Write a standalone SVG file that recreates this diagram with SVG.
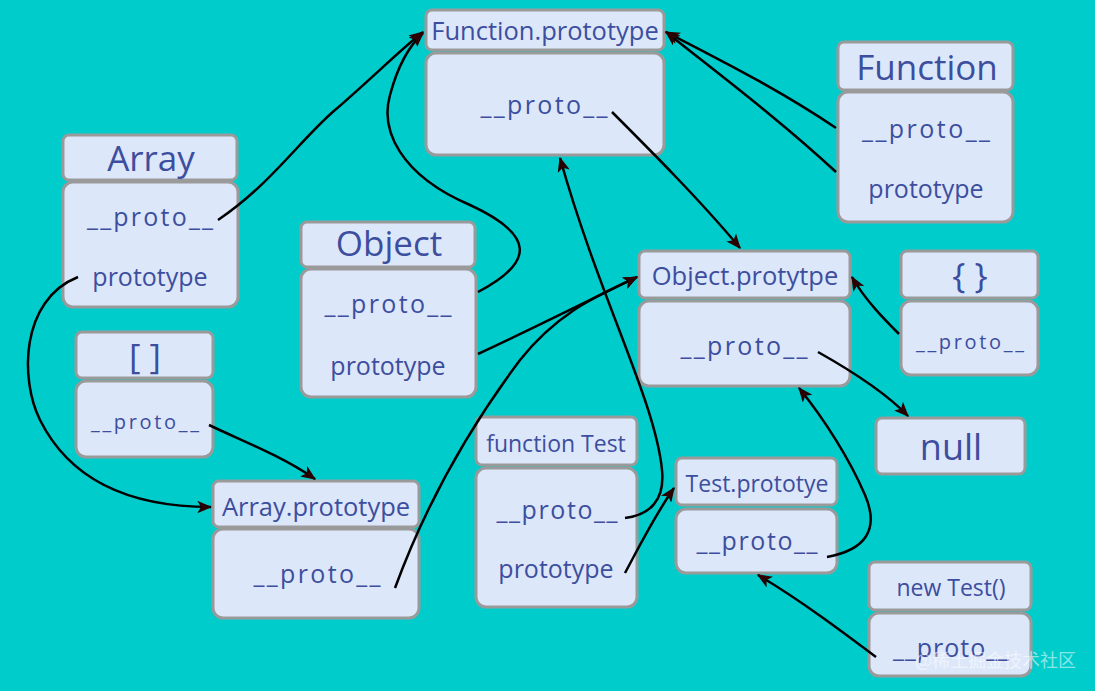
<svg xmlns="http://www.w3.org/2000/svg" width="1095" height="691" viewBox="0 0 1095 691">
<defs>
<style>
.bg{fill:#00CCCC}
.box{fill:#DCE7FA;stroke:#9A9A9A;stroke-width:3}
text{font-family:"Open Sans","Noto Sans","DejaVu Sans",sans-serif;fill:#3D4E9E;text-anchor:middle}
.hd{font-size:25.5px}
.hs{font-size:23px}
.t24{font-size:25px}
.t20{font-size:20px}
.big{font-size:35px}
.huge{font-size:36px}
.edge{fill:none;stroke:#000;stroke-width:2.5;marker-end:url(#ah)}
.wm{font-family:"Noto Sans CJK SC","Noto Sans",sans-serif;font-size:18px;fill:#FFFFFF;fill-opacity:0.55;text-anchor:start}
</style>
<marker id="ah" viewBox="0 0 12 10" refX="11" refY="5" markerWidth="6" markerHeight="5" orient="auto" markerUnits="strokeWidth">
<path d="M0,0 L12,5 L0,10 L3,5 Z" fill="#2A0000"/>
</marker>
</defs>
<rect class="bg" x="0" y="0" width="1095" height="691"/>

<g id="function-prototype">
<rect class="box" x="426" y="10" width="238" height="40" rx="6"/>
<rect class="box" x="426" y="53" width="238" height="102" rx="10"/>
<text class="hd" x="545" y="40">Function.prototype</text>
<text class="t24" x="544" y="114" textLength="127" lengthAdjust="spacing">__proto__</text>
</g>

<g id="function">
<rect class="box" x="838" y="42" width="175" height="48" rx="6"/>
<rect class="box" x="838" y="92" width="175" height="130" rx="10"/>
<text class="big" x="927" y="80">Function</text>
<text class="t24" x="926" y="138" textLength="128" lengthAdjust="spacing">__proto__</text>
<text class="t24" x="926" y="198">prototype</text>
</g>

<g id="array">
<rect class="box" x="63" y="135" width="174" height="45" rx="6"/>
<rect class="box" x="63" y="182" width="175" height="125" rx="10"/>
<text class="big" x="151" y="171">Array</text>
<text class="t24" x="150" y="226" textLength="126" lengthAdjust="spacing">__proto__</text>
<text class="t24" x="150" y="286">prototype</text>
</g>

<g id="object">
<rect class="box" x="301" y="222" width="174" height="45" rx="6"/>
<rect class="box" x="301" y="269" width="175" height="128" rx="10"/>
<text class="big" x="389" y="256">Object</text>
<text class="t24" x="388" y="313" textLength="127" lengthAdjust="spacing">__proto__</text>
<text class="t24" x="388" y="375">prototype</text>
</g>

<g id="array-literal">
<rect class="box" x="76" y="332" width="137" height="46" rx="6"/>
<rect class="box" x="76" y="381" width="137" height="76" rx="10"/>
<text class="big" x="145" y="369">[ ]</text>
<text class="t20" x="145" y="429" textLength="108" lengthAdjust="spacing">__proto__</text>
</g>

<g id="object-prototype">
<rect class="box" x="639" y="251" width="211" height="47" rx="6"/>
<rect class="box" x="639" y="301" width="211" height="85" rx="10"/>
<text class="hd" x="745" y="285">Object.protytpe</text>
<text class="t24" x="744" y="355" textLength="127" lengthAdjust="spacing">__proto__</text>
</g>

<g id="object-literal">
<rect class="box" x="901" y="251" width="137" height="47" rx="6"/>
<rect class="box" x="901" y="301" width="137" height="74" rx="10"/>
<text class="big" x="970" y="288">{ }</text>
<text class="t20" x="970" y="349" textLength="108" lengthAdjust="spacing">__proto__</text>
</g>

<g id="null">
<rect class="box" x="876" y="418" width="149" height="56" rx="6"/>
<text class="huge" x="951" y="460">null</text>
</g>

<g id="array-prototype">
<rect class="box" x="213" y="481" width="206" height="46" rx="6"/>
<rect class="box" x="213" y="529" width="206" height="89" rx="10"/>
<text class="hd" x="316" y="516">Array.prototype</text>
<text class="t24" x="317" y="583" textLength="127" lengthAdjust="spacing">__proto__</text>
</g>

<g id="function-test">
<rect class="box" x="476" y="417" width="161" height="48" rx="6"/>
<rect class="box" x="476" y="468" width="161" height="139" rx="10"/>
<text class="hs" x="556" y="452">function Test</text>
<text class="t24" x="557" y="519" textLength="121" lengthAdjust="spacing">__proto__</text>
<text class="t24" x="556" y="578">prototype</text>
</g>

<g id="test-prototype">
<rect class="box" x="676" y="458" width="161" height="47" rx="6"/>
<rect class="box" x="676" y="509" width="161" height="64" rx="10"/>
<text class="hs" x="757" y="492">Test.prototye</text>
<text class="t24" x="757" y="550" textLength="121" lengthAdjust="spacing">__proto__</text>
</g>

<g id="new-test">
<rect class="box" x="869" y="562" width="162" height="48" rx="6"/>
<rect class="box" x="869" y="613" width="162" height="63" rx="10"/>
<text class="hs" x="951" y="596">new Test()</text>
<text class="t24" x="951" y="657" textLength="116" lengthAdjust="spacing">__proto__</text>
</g>

<g id="connectors">
<path class="edge" d="M218,220 C270,185 300,140 335,110 C370,80 400,50 423,32"/>
<path class="edge" d="M478,292 C535,262 535,235 470,205 C400,175 380,130 390,95 C398,65 410,45 423,33"/>
<path class="edge" d="M78,277 C20,300 20,380 40,420 C70,480 130,507 211,507"/>
<path class="edge" d="M209,425 C240,440 280,455 315,479"/>
<path class="edge" d="M395,588 C420,520 460,440 520,360 C560,310 600,295 637,277"/>
<path class="edge" d="M478,354 C530,330 590,300 637,277"/>
<path class="edge" d="M612,112 C650,150 700,200 740,248"/>
<path class="edge" d="M836,128 C780,90 720,60 666,32"/>
<path class="edge" d="M836,172 C780,120 720,75 666,32"/>
<path class="edge" d="M899,334 C885,320 865,300 852,277"/>
<path class="edge" d="M818,352 C850,370 885,392 908,416"/>
<path class="edge" d="M625,518 C650,515 665,500 662,470 C655,400 600,300 560,158"/>
<path class="edge" d="M625,573 C640,545 655,515 674,488"/>
<path class="edge" d="M827,557 C865,550 880,530 865,495 C850,460 825,420 799,388"/>
<path class="edge" d="M876,657 C840,630 800,600 758,575"/>
</g>

<text class="wm" x="915" y="667">@稀土掘金技术社区</text>
</svg>
